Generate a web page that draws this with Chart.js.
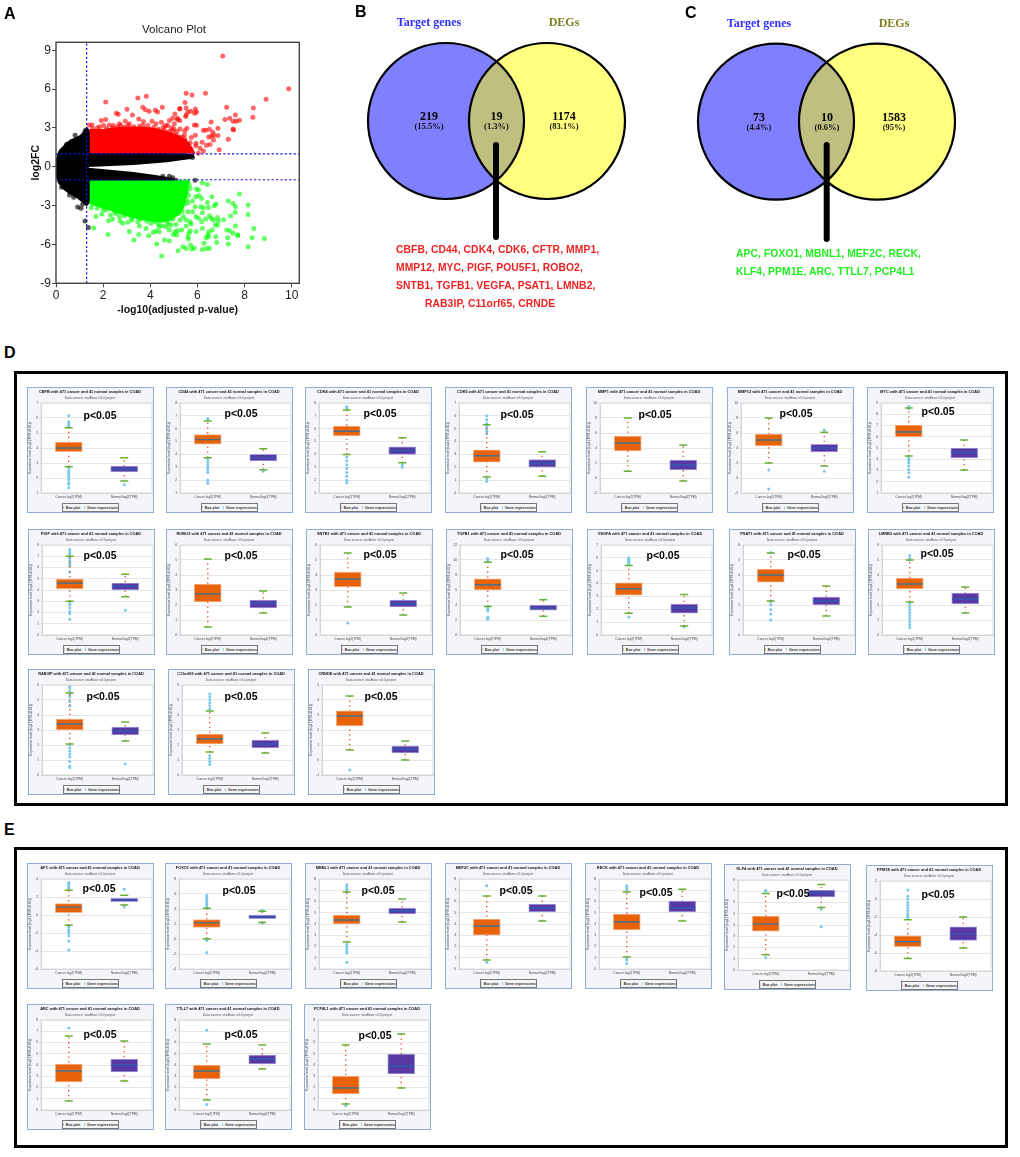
<!DOCTYPE html>
<html><head><meta charset="utf-8">
<script src="https://cdn.jsdelivr.net/npm/chart.js@4/dist/chart.umd.js"></script>
<style>
html,body{margin:0;padding:0;background:#fff;width:1020px;height:1157px;overflow:hidden}
#page{position:relative;width:1020px;height:1157px}
canvas{position:absolute;left:0;top:0}
.t{position:absolute;white-space:pre;line-height:1}
.panel{position:absolute;box-sizing:border-box;border:1px solid #8eaed6;background:#f3f5f9}
.frame{position:absolute;box-sizing:border-box;border:3px solid #000}
.leg{position:absolute;box-sizing:border-box;border:1px solid #777;background:#f5f5f5;font:bold 3.6px "Liberation Sans";color:#333;display:flex;align-items:center;justify-content:center;gap:2px;white-space:nowrap}
.leg i{display:inline-block;width:3px;height:3px;background:#ccc}
.leg b{display:inline-block;width:3px;height:3px;border-radius:50%;background:#7cc8e8;margin-left:2px}
</style></head><body><div id="page"></div>
<script>
/* ---------- Panel A: volcano ---------- */
const volcanoTitle = "Volcano Plot";
const volcanoXLabel = "-log10(adjusted p-value)";
const volcanoYLabel = "log2FC";
const cutoffX = 1.3, cutoffY = 1;
const blackUpperTop = [[0.02,0],[0.05,0.6],[0.17,1.2],[0.35,1.55],[0.52,1.85],[0.8,2.15],[1.0,2.3],[1.2,2.6],[1.3,2.95],[1.4,2.7],[1.42,1.0],[3,0.97],[4.5,0.95],[5.5,0.93],[5.85,0.85]];
const blackUpperBottom = [[0.02,0],[1.3,0],[1.37,0.1],[3.28,0.26],[4.7,0.46],[5.69,0.72],[5.85,0.85]];
const blackLowerTop = [[0.02,0],[1.3,0],[1.37,-0.18],[3.28,-0.51],[4.27,-0.77],[5.0,-1.0]];
const blackLowerBottom = [[0.02,0],[0.04,-0.6],[0.12,-1.1],[0.3,-1.6],[0.6,-2.0],[0.9,-2.3],[1.1,-2.6],[1.3,-2.9],[1.4,-2.7],[1.42,-1.0],[5.0,-1.0]];
const redMass = [[1.42,2.8],[2,2.8],[2.5,2.95],[3,3.0],[3.5,3.0],[4,2.95],[4.4,2.8],[4.8,2.6],[5.2,2.3],[5.5,2.0],[5.75,1.4],[5.85,1.0]];
const greenMass = [[1.42,-2.7],[1.8,-3.0],[2.5,-3.4],[3,-3.7],[3.5,-3.95],[4,-4.1],[4.5,-4.2],[4.9,-4.0],[5.2,-3.6],[5.35,-3.2],[5.5,-2.2],[5.6,-1.0]];
const blackDots = [[0.23,-1.57],[0.57,-2.18],[0.75,-2.36],[0.92,-3.11],[1.13,-2.9],[1.06,-3.21],[1.23,-4.19],[1.37,-4.68],[0.81,2.44],[0.99,2.21],[1.24,2.8],[1.2,2.6],[5.09,-1.03],[5.9,-1.03],[5.79,0.72],[5.62,0.77],[5.3,0.72],[4.53,-0.72],[4.81,-0.72],[4.95,-0.85],[0.18,-1.2],[0.45,1.75],[0.65,1.95]];
const redDots = [[2.11,5.01],[3.47,5.32],[3.83,5.45],[3.68,4.6],[3.79,4.4],[3.95,4.29],[4.21,4.37],[4.31,4.24],[4.51,4.6],[2.56,4.14],[2.64,4.06],[3.01,4.45],[3.24,4.01],[3.51,3.7],[1.92,3.57],[2.11,3.65],[2.94,3.52],[1.41,3.24],[1.53,3.24],[2.02,3.19],[2.26,3.24],[2.43,3.19],[2.69,3.32],[3.11,3.32],[3.71,3.5],[4.07,3.52],[4.47,3.44],[5.04,4.09],[5.25,4.47],[4.95,3.75],[4.81,3.57],[5.16,3.65],[4.24,3.32],[4.74,3.19],[5.02,3.32],
[7.07,8.56],[9.87,6.04],[8.91,5.22],[5.52,5.68],[5.77,5.55],[6.34,5.68],[5.47,4.96],[7.24,4.6],[8.37,4.55],[5.25,4.5],[5.52,4.55],[5.91,4.47],[5.71,4.29],[5.59,4.22],[5.88,4.14],[5.96,4.24],[5.52,4.01],[5.5,3.88],[7.61,4.01],[7.37,3.75],[7.17,3.65],[8.35,3.83],[7.51,3.52],[7.64,3.52],[7.78,3.6],[6.58,3.47],[5.15,3.75],[5.25,3.57],[5.87,3.24],[5.96,3.21],[5.55,2.98],[5.46,2.78],[5.26,2.93],[5.12,2.72],[6.87,2.98],[6.51,2.9],[6.25,2.83],[6.35,2.83],[7.51,2.9],[7.53,2.87],[6.65,2.67],[6.7,2.44],[6.87,2.42],[6.48,2.31],[6.59,2.36],[5.91,2.44],[5.74,2.26],[6.68,2.08],[7.31,2.13],[6.2,1.9],[6.38,1.67],[6.53,1.72],[6.92,1.31],[5.94,1.83],[5.93,1.62],[6.11,1.44],[6.25,1.23],[6.04,1.05],[5.69,1.85],[5.47,2.11],[5.33,1.9],[5.55,1.65],[5.22,2.29],[5.64,1.39],[5.4,1.26],[5.76,1.13],
[1.55,2.95],[1.75,3.0],[1.85,3.1],[2.15,2.95],[2.4,3.0],[2.6,3.1],[2.75,3.2],[2.9,3.05],[3.05,3.2],[3.3,3.1],[3.55,3.15],[3.9,3.2],[4.15,3.05],[4.35,2.9],[4.6,2.85],[4.8,2.75],[4.95,2.75],[5.1,2.45],[4.55,3.05],[3.7,3.2],[5.0,2.95],[5.35,2.3],[5.3,2.1],[5.6,1.7],[5.1,2.2],[5.45,2.45],[4.9,3.0],[4.65,3.2]];
const greenDots = [[1.49,-3.16],[1.7,-3.83],[1.94,-3.65],[2.12,-3.34],[2.31,-3.73],[2.23,-4.16],[2.4,-4.06],[1.6,-4.73],[2.21,-5.22],[2.72,-4.19],[2.69,-3.86],[2.83,-4.37],[3.04,-4.29],[3.22,-4.11],[3.11,-4.99],[3.54,-4.58],[3.51,-5.22],[3.3,-5.66],[3.82,-4.76],[3.93,-5.32],[4.13,-5.06],[4.27,-5.96],[4.48,-6.89],[4.38,-4.63],[4.53,-4.55],[4.67,-4.63],[4.88,-4.5],[5.09,-4.45],[4.24,-4.96],[4.6,-5.66],[4.81,-5.73],[4.98,-5.22],[5.12,-5.27],[5.18,-6.48],[4.81,-4.88],[4.38,-5.01],[4.03,-4.37],[3.47,-4.24],[2.55,-3.6],
[7.78,-2.11],[7.31,-2.65],[7.51,-2.83],[7.61,-3.08],[8.15,-2.96],[8.15,-3.68],[7.6,-3.52],[7.41,-3.8],[7.11,-4.09],[6.85,-3.91],[6.89,-4.16],[6.68,-4.11],[6.85,-4.5],[6.76,-4.5],[6.58,-3.98],[7.61,-4.58],[8.39,-4.76],[7.24,-4.88],[7.37,-4.94],[7.51,-5.14],[7.71,-5.24],[7.71,-5.32],[7.28,-5.48],[8.32,-5.48],[8.84,-5.53],[8.15,-6.17],[7.31,-5.96],[6.82,-5.84],[6.78,-5.4],[6.48,-5.01],[6.63,-4.88],[6.44,-5.27],[6.37,-5.48],[6.46,-5.4],[6.28,-5.91],[6.51,-6.3],[6.39,-6.32],[6.21,-6.38],[5.87,-6.27],[5.71,-6.04],[5.76,-6.35],[5.52,-6.32],[5.38,-6.17],[5.62,-5.58],[5.59,-5.4],[5.64,-5.14],[5.69,-4.94],[5.94,-4.99],[6.21,-4.76],[5.73,-4.42],[5.52,-4.58],[5.05,-5.01],[5.16,-4.94],[5.33,-4.88],[5.94,-3.86],[6.04,-3.98],[6.35,-4.04],[6.18,-4.24],[6.51,-3.78],[6.21,-3.55],[5.9,-3.08],[6.14,-3.08],[6.25,-3.16],[6.42,-2.75],[6.46,-3.14],[6.72,-3.01],[6.79,-2.88],[6.61,-2.31],[5.93,-2.31],[6.07,-2.24],[6.18,-2.44],[6.04,-1.8],[5.96,-1.72],[6.42,-1.36],[6.21,-1.23],[5.69,-1.67],[5.47,-1.59],[5.59,-1.16],[5.36,-1.16],[5.79,-2.65],[5.47,-2.19],[5.62,-2.19],[5.55,-2.57],[5.79,-3.47],[5.59,-3.47],[5.26,-4.11],[5.52,-4.11],[5.69,-4.24],[5.4,-3.86],
[1.55,-2.9],[1.75,-3.2],[2.0,-3.3],[2.5,-3.5],[2.9,-3.8],[3.2,-3.95],[3.6,-4.05],[3.85,-4.2],[4.2,-4.25],[4.7,-4.2],[4.95,-4.05],[5.2,-3.6],[5.35,-3.45],[5.45,-2.9],[5.6,-2.8],[5.55,-1.9],[5.65,-1.4],[4.35,-4.45],[4.75,-4.4],[5.0,-3.3],[5.3,-2.8]];

/* ---------- Panels B, C: Venn ---------- */
const vennHeads = ["Target genes","DEGs"];
const countsB = ["219","19","1174"];
const pctsB = ["(15.5%)","(1.3%)","(83.1%)"];
const countsC = ["73","10","1583"];
const pctsC = ["(4.4%)","(0.6%)","(95%)"];
const genesRedLines = ["CBFB, CD44, CDK4, CDK6, CFTR, MMP1,","MMP12, MYC, PIGF, POU5F1, ROBO2,","SNTB1, TGFB1, VEGFA, PSAT1, LMNB2,","RAB3IP, C11orf65, CRNDE"];
const genesGreenLines = ["APC, FOXO1, MBNL1, MEF2C, RECK,","KLF4, PPM1E, ARC, TTLL7, PCP4L1"];

/* ---------- Panels D, E: expression box plots (lo,q1,median,q3,hi) ---------- */
const genesD = ["CBFB","CD44","CDK4","CDK6","MMP1","MMP12","MYC","PIGF","ROBO2","SNTB1","TGFB1","VEGFA","PSAT1","LMNB2","RAB3IP","C11orf65","CRNDE"];
const axisD = [[1,7,1],[1,8,1],[1,8,1],[0,7,1],[-2,10,2],[-2,10,2],[1,9,1],[0,8,1],[0,6,1],[0,6,1],[0,12,2],[0,7,1],[0,6,1],[0,6,1],[0,6,1],[0,6,1],[-1,5,1]];
const cancerD = [[2.75,3.75,4.0,4.4,5.35],[3.75,4.8,5.15,5.55,6.6],[4.0,5.43,5.8,6.2,7.45],[1.25,2.4,2.9,3.35,5.3],[0.9,3.6,4.67,5.6,8.0],[2.0,4.27,5.07,5.87,8.0],[4.29,5.98,6.42,7.04,8.56],[3.0,4.09,4.62,4.98,7.0],[0.53,2.2,2.73,3.4,5.07],[1.87,3.2,3.73,4.2,5.47],[3.8,6.0,6.7,7.5,9.7],[1.7,3.1,3.6,4.05,5.4],[2.27,3.53,4.0,4.4,5.47],[2.2,3.07,3.4,3.8,5.0],[2.07,3.0,3.4,3.73,5.47],[1.53,2.07,2.4,2.73,4.27],[0.67,2.27,2.93,3.27,4.27]];
const normalD = [[1.8,2.4,2.6,2.8,3.35],[2.8,3.5,3.75,4.0,4.45],[3.35,4.0,4.3,4.6,5.3],[1.3,2.0,2.3,2.6,3.2],[-0.4,1.07,1.73,2.4,4.4],[1.6,3.47,4.0,4.5,6.1],[3.04,4.11,4.6,5.0,5.71],[3.4,4.0,4.36,4.62,5.4],[1.47,1.8,2.13,2.33,2.93],[1.33,1.87,2.07,2.33,2.8],[2.5,3.3,3.6,4.0,4.7],[0.7,1.7,2.1,2.4,3.15],[1.27,2.0,2.27,2.53,3.27],[1.47,2.07,2.4,2.8,3.2],[2.27,2.67,2.93,3.2,3.53],[1.47,1.8,2.07,2.33,2.8],[0,0.47,0.73,0.93,1.27]];
const cancerOutD = [[6.15,5.75,5.6,5.5,5.4,2.7,2.5,2.4,2.3,2.2,2.1,1.9,1.7,1.6,1.35],[6.8,6.7,3.6,3.4,3.2,3.0,2.8,2.6,2.0,1.75],[7.7,7.6,3.8,3.5,3.2,2.9,2.6,2.3,2.0,1.8],[6,5.7,5.4,5.2,5,4.8,4.6,1.1,0.9],[],[-1.47,1.07],[8.7,8.5,4.1,3.9,3.7,3.4,3.1,2.8,2.4],[7.6,7.4,7.2,7,6.8,6.6,6.4,6.2,5.6,2.9,2.7,2.4,2.1,1.9,1.4],[],[0.8],[10.2,9.9,3.6,3.4,3.2,2.4,2.2,2.1],[6,5.9,5.8,5.7,5.6,5.5,1.4],[5.5,2.2,2,1.7,1.4,1],[5.3,5.1,5,2.1,1.9,1.7,1.5,1.3,1.1,0.9,0.7,0.5],[5.9,5.8,5.6,5.4,5.2,4.9,4.6,2,1.8,1.6,1.4,1.2,0.9,0.6,0.5],[5.4,5.2,5,4.8,4.6,4.4,1.3,1.1,0.9,0.7],[-0.67]];
const normalOutD = [[1.55],[2.7],[3.2,3.0],[],[],[0.9,6.4],[],[2.2],[],[],[],[0.65],[],[],[0.73],[],[]];
const genesE = ["APC","FOXO1","MBNL1","MEF2C","RECK","KLF4","PPM1E","ARC","TTLL7","PCP4L1"];
const axisE = [[-6,4,2],[-4,8,2],[0,8,1],[0,8,1],[0,8,1],[0,8,1],[-8,2,2],[0,8,1],[0,8,1],[0,8,1]];
const cancerE = [[-1.15,0.27,0.87,1.27,2.75],[0.05,1.55,2.15,2.6,4.1],[2.4,4,4.36,4.8,6.84],[0.8,3,3.82,4.44,6.5],[1.07,3.47,4.18,4.89,6.84],[1.35,3.45,4.1,4.8,6.8],[-6.6,-5.3,-4.75,-4.1,-2.3],[0.8,2.49,3.47,4.09,6.58],[0.89,2.76,3.47,4,5.87],[0.53,1.42,1.96,3.02,5.78]];
const normalE = [[1.1,1.47,1.65,1.85,2.2],[2.2,2.7,2.95,3.2,3.7],[4.18,4.89,5.15,5.42,6.22],[4.27,5.07,5.42,5.78,6.5],[4.27,5.07,5.42,6.04,7.1],[5.55,6.5,6.85,7.1,7.6],[-5.45,-4.6,-3.9,-3.1,-2],[2.58,3.38,4,4.53,6.13],[3.64,4.09,4.53,4.89,5.78],[1.96,3.2,3.91,4.98,6.76]];
const cancerOutE = [[3.6,3.5,3.3,3.1,2.9,-1.3,-1.6,-1.8,-2,-2.3,-2.9,-3.9],[5.8,5.6,5.4,5.1,4.9,4.6,4.3,-0.1,-0.2,-1.8],[7.5,7.3,7.1,6.9,2.2,2,1.8,1.6,1.4,0.6],[7.4,0.6],[7.4,7.2,7,0.9,0.8,0.5],[7.1,7,1.1],[1,0.3,0,-0.4,-0.7,-1,-1.3,-1.6,-1.9,-2.1],[7.3],[7.1,0.5],[0.4]];
const normalOutE = [[2.85,0.9],[3.85,2.1],[],[],[],[5.4,3.85],[],[],[],[]];
const pLabel = "p<0.05";
const panelSubtitle = "Data source: starBase v3.0 project";
const yTitle = "Expression level (log2 (TPM+0.01))";
const groupLabels = ["Cancer log2(TPM)","Normal log2(TPM)"];
const legendLabels = ["Box plot","Gene expressions"];

/* ---------- layout ---------- */
const panelW = 127, panelH = 126;
const panelPosD = [[27,387],[166,387],[305,387],[445,387],[586,387],[727,387],[867,387],[28,529],[166,529],[306,529],[446,529],[587,529],[729,529],[868,529],[28,669],[168,669],[308,669]];
const pPosD = [[100,415],[241,413],[380,413],[517,414],[655,414],[796,413],[938,411],[100,555],[241,555],[380,554],[517,554],[663,555],[804,554],[937,553],[103,696],[241,696],[381,696]];
const panelPosE = [[27,863],[165,863],[305,863],[445,863],[585,863],[724,864],[866,865],[27,1004],[165,1004],[304,1004]];
const pPosE = [[99,888],[239,890],[378,890],[516,890],[656,892],[793,893],[938,894],[100,1034],[241,1034],[375,1035]];

const page = document.getElementById('page');
Chart.defaults.animation = false;
Chart.defaults.responsive = false;
Chart.defaults.devicePixelRatio = 1;
Chart.defaults.font.family = '"Liberation Sans", Arial, sans-serif';

function text(s,x,y,font,color,anchor){
  const d=document.createElement('div');d.className='t';d.textContent=s;
  d.style.font=font;d.style.color=color;d.style.lineHeight='1';
  d.style.left=x+'px';d.style.top=y+'px';
  d.style.transform=anchor==='l'?'translateY(-50%)':'translate(-50%,-50%)';
  page.appendChild(d);return d;
}
function addCanvas(parent,w,h){const c=document.createElement('canvas');c.width=w;c.height=h;c.style.width=w+'px';c.style.height=h+'px';parent.appendChild(c);return c;}
const pts = a => a.map(p=>({x:p[0],y:p[1]}));

const framePlugin = {
  id:'plotFrame',
  beforeDraw(ch,a,o){ if(o.bg){const s=ch.chartArea;ch.ctx.fillStyle=o.bg;ch.ctx.fillRect(s.left,s.top,s.right-s.left,s.bottom-s.top);} },
  afterDraw(ch,a,o){ if(o.color){const s=ch.chartArea,c=ch.ctx;c.save();c.strokeStyle=o.color;c.lineWidth=o.width||1;c.strokeRect(s.left,s.top,s.right-s.left,s.bottom-s.top);c.restore();} }
};
Chart.register(framePlugin);

/* ---------- draw A ---------- */
(function(){
  const c=addCanvas(page,320,330);
  const scat=(data,color,order)=>({type:'scatter',data:pts(data),showLine:false,pointRadius:2.5,pointBorderWidth:0,backgroundColor:color,order});
  const edge=(data,fill,color,order)=>({type:'scatter',data:pts(data),showLine:true,tension:0,pointRadius:0,borderColor:color,borderWidth:3,borderJoinStyle:'round',backgroundColor:color,fill,order});
  const dash=(data)=>({type:'scatter',data:pts(data),showLine:true,pointRadius:0,borderColor:'#1414e6',borderWidth:1.2,borderDash:[2.2,2.2],order:0});
  new Chart(c,{type:'scatter',data:{datasets:[
    edge(blackUpperTop,'+1','#000',6),
    edge(blackUpperBottom,false,'#000',6),
    edge(blackLowerTop,'+1','#000',6),
    edge(blackLowerBottom,false,'#000',6),
    scat(blackDots,'rgba(0,0,0,.65)',5),
    edge(redMass,{value:1.05},'#ff0000',4),
    edge(greenMass,{value:-1.05},'#00ff00',4),
    scat(redDots,'rgba(255,0,0,.6)',3),
    scat(greenDots,'rgba(0,255,0,.6)',3),
    dash([[cutoffX,-9],[cutoffX,9.62]]),
    dash([[0,cutoffY],[10.32,cutoffY]]),
    dash([[0,-cutoffY],[10.32,-cutoffY]])
  ]},options:{
    layout:{autoPadding:false,padding:{left:26,right:20.7,top:42.3,bottom:10}},
    plugins:{legend:{display:false},tooltip:{enabled:false},title:{display:false},
      plotFrame:{color:'#444',width:1.4}},
    scales:{
      x:{type:'linear',min:0,max:10.32,ticks:{stepSize:2,includeBounds:false,color:'#222',font:{size:12},padding:1,maxRotation:0},
        grid:{drawOnChartArea:false,tickLength:4,tickColor:'#444'},border:{display:false},
        title:{display:true,text:volcanoXLabel,color:'#111',font:{size:10.5,weight:'bold'},padding:{top:4}},
        afterFit(s){s.height=36.7}},
      y:{type:'linear',min:-9,max:9.62,ticks:{stepSize:3,includeBounds:false,color:'#222',font:{size:12},padding:1},
        grid:{drawOnChartArea:false,tickLength:4,tickColor:'#444'},border:{display:false},
        title:{display:true,text:volcanoYLabel,color:'#111',font:{size:10.5,weight:'bold'},padding:{bottom:0}},
        afterFit(s){s.width=30}}
    }}});
})();
text(volcanoTitle,174,30,'11.5px "Liberation Sans"','#222');
text("A",4,14,'bold 16px "Liberation Sans"','#000','l');

/* ---------- draw B, C ---------- */
const lensPlugin = {
  id:'lens',
  afterDatasetDraw(ch,args){
    if(args.index!==1) return;
    const a=ch.getDatasetMeta(0).data[0], b=ch.getDatasetMeta(1).data[0], c=ch.ctx, ra=a.options.radius, rb=b.options.radius;
    c.save();
    c.save();c.beginPath();c.arc(a.x,a.y,ra,0,Math.PI*2);c.clip();c.beginPath();c.arc(b.x,b.y,rb,0,Math.PI*2);c.fillStyle='#bfbf80';c.fill();c.restore();
    c.strokeStyle='#000';c.lineWidth=2.2;
    c.beginPath();c.arc(a.x,a.y,ra,0,Math.PI*2);c.stroke();
    c.beginPath();c.arc(b.x,b.y,rb,0,Math.PI*2);c.stroke();
    c.restore();
  }
};
const vennB = {left:[106,121,78],right:[207,121,78],leader:[[156,145],[156,237]],origin:[340,0]};
const vennC = {left:[116,121.7,78],right:[217,121.7,78],leader:[[166.7,145],[166.7,239]],origin:[660,0]};
function venn(v){
  const c=addCanvas(page,320,330);c.style.left=v.origin[0]+'px';c.style.top=v.origin[1]+'px';
  const bub=(p,col,order)=>({type:'bubble',data:[{x:p[0],y:p[1],r:p[2]}],backgroundColor:col,borderWidth:0,order});
  new Chart(c,{type:'bubble',data:{datasets:[
    bub(v.left,'#8080ff',3),bub(v.right,'#ffff80',2),
    {type:'line',data:pts(v.leader),borderColor:'#000',borderWidth:6,borderCapStyle:'round',pointRadius:0,order:0}
  ]},plugins:[lensPlugin],options:{clip:false,layout:{autoPadding:false,padding:0},plugins:{legend:{display:false},tooltip:{enabled:false}},
    scales:{x:{type:'linear',min:0,max:320,display:false},y:{type:'linear',min:0,max:330,reverse:true,display:false}}}});
}
venn(vennB);venn(vennC);
const headFont='bold 12px "Liberation Serif"';
function vennText(xs,hy,ny,py,counts,pcts){
  text(vennHeads[0],xs[0],hy,headFont,'#3030ff');
  text(vennHeads[1],xs[2],hy,headFont,'#7f7f20');
  counts.forEach((s,i)=>text(s,xs[i],ny,'bold 12px "Liberation Serif"','#000'));
  pcts.forEach((s,i)=>text(s,xs[i],py,'bold 8.5px "Liberation Serif"','#111'));
}
vennText([429,496.5,564],22,116,126,countsB,pctsB);
vennText([759,827,894],23,117,127,countsC,pctsC);
text("B",355,12,'bold 16px "Liberation Sans"','#000','l');
text("C",685,13,'bold 16px "Liberation Sans"','#000','l');
const redY=[250,268,286,304], redX=[396,396,396,425];
genesRedLines.forEach((s,i)=>{text(s,redX[i],redY[i],'bold 10.3px "Liberation Sans"','#ee2222','l').style.letterSpacing='.1px'});
const greenY=[254,272];
genesGreenLines.forEach((s,i)=>{text(s,736,greenY[i],'bold 10.3px "Liberation Sans"','#22ee22','l').style.letterSpacing='.1px'});

/* ---------- frames ---------- */
function frame(x,y,w,h){const f=document.createElement('div');f.className='frame';f.style.cssText=`left:${x}px;top:${y}px;width:${w}px;height:${h}px`;page.appendChild(f);}
frame(14,371,994,435);frame(14,847,994,301);
text("D",4,353,'bold 16px "Liberation Sans"','#000','l');
text("E",4,830,'bold 16px "Liberation Sans"','#000','l');

/* ---------- box panels ---------- */
function boxPanel(gene,axis,cancer,normal,cOut,nOut,pos,pPos){
  const p=document.createElement('div');p.className='panel';
  p.style.cssText=`left:${pos[0]}px;top:${pos[1]}px;width:${panelW}px;height:${panelH}px`;
  page.appendChild(p);
  const c=addCanvas(p,panelW-2,panelH-2);
  const [A,B]=groupLabels;
  const whisk=(lab,b)=>({type:'line',data:[{x:lab,y:b[0]},{x:lab,y:b[4]}],borderColor:'#e2451f',borderWidth:1.3,borderDash:[1.3,3.5],pointRadius:0,order:6});
  const mark=(data,col,r,w,order)=>({type:'line',data,showLine:false,pointStyle:'line',pointRadius:r,borderColor:col,pointBorderColor:col,pointBorderWidth:w,order});
  const dots=(lab,vals)=>({type:'line',data:vals.map(y=>({x:lab,y})),showLine:false,pointRadius:1.5,pointBorderWidth:0,backgroundColor:'#79c8ea',order:7});
  new Chart(c,{data:{labels:[A,B],datasets:[
    dots(A,cOut),dots(B,nOut),whisk(A,cancer),whisk(B,normal),
    {type:'bar',data:[[cancer[1],cancer[3]],[normal[1],normal[3]]],backgroundColor:['#e8620a','#5a38a4'],borderColor:['#f6b48a','#a79cd8'],borderWidth:1,borderSkipped:false,barThickness:27,order:3},
    mark([{x:A,y:cancer[2]}],'#47708f',13,1.4,2),
    mark([{x:B,y:normal[2]}],'#2f5bb0',13,1.4,2),
    mark([{x:A,y:cancer[0]},{x:A,y:cancer[4]},{x:B,y:normal[0]},{x:B,y:normal[4]}],'#66b032',4,1.5,1)
  ]},options:{
    layout:{autoPadding:false,padding:{left:0,right:1,top:0,bottom:0}},
    plugins:{legend:{display:false},tooltip:{enabled:false},
      title:{display:true,text:gene+" with 471 cancer and 41 normal samples in COAD",color:'#111',font:{size:3.9,weight:'bold',lineHeight:1},padding:{top:1.5,bottom:2}},
      subtitle:{display:true,text:panelSubtitle,color:'#555',font:{size:3.3,weight:'normal',lineHeight:1},padding:{top:1,bottom:3.3}},
      plotFrame:{bg:'#ffffff',color:'#dcdcdc',width:1}},
    scales:{
      x:{type:'category',ticks:{color:'#444',font:{size:3.3},padding:2,maxRotation:0,autoSkip:false},grid:{display:false,drawTicks:false,tickLength:0},border:{color:'#ccc'},afterFit(s){s.height=19}},
      y:{min:axis[0],max:axis[1],ticks:{stepSize:axis[2],color:'#444',font:{size:3.3},padding:1},grid:{color:'#e6e6e6',tickLength:2},border:{color:'#ccc'},
        title:{display:true,text:yTitle,color:'#444',font:{size:3.3,weight:'normal'},padding:{top:0,bottom:1}},afterFit(s){s.width=13}}
    }}});
  const l=document.createElement('div');l.className='leg';
  l.style.cssText=`left:34px;top:115px;width:57px;height:9px`;
  l.innerHTML=`<i></i><span>${legendLabels[0]}</span><b></b><span>${legendLabels[1]}</span>`;
  p.appendChild(l);
  text(pLabel,pPos[0],pPos[1],'bold 10.5px "Liberation Sans"','#000');
}
genesD.forEach((g,i)=>boxPanel(g,axisD[i],cancerD[i],normalD[i],cancerOutD[i],normalOutD[i],panelPosD[i],pPosD[i]));
genesE.forEach((g,i)=>boxPanel(g,axisE[i],cancerE[i],normalE[i],cancerOutE[i],normalOutE[i],panelPosE[i],pPosE[i]));
</script></body></html>
